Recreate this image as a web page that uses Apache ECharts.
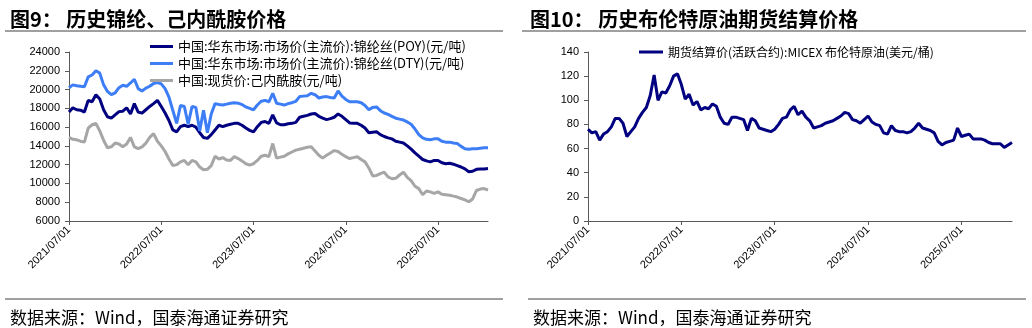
<!DOCTYPE html>
<html>
<head>
<meta charset="utf-8">
<script src="https://cdn.jsdelivr.net/npm/echarts@6/dist/echarts.min.js"></script>
<style>
html,body{margin:0;padding:0;background:#fff;}
#c{width:1032px;height:328px;}
</style>
</head>
<body>
<div id="c"></div>
<script>
const dates = [
'2021/07/01','2021/07/16','2021/08/01','2021/08/16','2021/09/01','2021/09/16','2021/10/01','2021/10/16','2021/11/01','2021/11/16','2021/12/01','2021/12/16',
'2022/01/01','2022/01/16','2022/02/01','2022/02/16','2022/03/01','2022/03/16','2022/04/01','2022/04/16','2022/05/01','2022/05/16','2022/06/01','2022/06/16',
'2022/07/01','2022/07/16','2022/08/01','2022/08/16','2022/09/01','2022/09/16','2022/10/01','2022/10/16','2022/11/01','2022/11/16','2022/12/01','2022/12/16',
'2023/01/01','2023/01/16','2023/02/01','2023/02/16','2023/03/01','2023/03/16','2023/04/01','2023/04/16','2023/05/01','2023/05/16','2023/06/01','2023/06/16',
'2023/07/01','2023/07/16','2023/08/01','2023/08/16','2023/09/01','2023/09/16','2023/10/01','2023/10/16','2023/11/01','2023/11/16','2023/12/01','2023/12/16',
'2024/01/01','2024/01/16','2024/02/01','2024/02/16','2024/03/01','2024/03/16','2024/04/01','2024/04/16','2024/05/01','2024/05/16','2024/06/01','2024/06/16',
'2024/07/01','2024/07/16','2024/08/01','2024/08/16','2024/09/01','2024/09/16','2024/10/01','2024/10/16','2024/11/01','2024/11/16','2024/12/01','2024/12/16',
'2025/01/01','2025/01/16','2025/02/01','2025/02/16','2025/03/01','2025/03/16','2025/04/01','2025/04/16','2025/05/01','2025/05/16','2025/06/01','2025/06/16',
'2025/07/01','2025/07/16','2025/08/01','2025/08/16','2025/09/01','2025/09/16','2025/10/01','2025/10/16','2025/11/01','2025/11/16','2025/12/01','2025/12/16',
'2026/01/01','2026/01/16'
];
const tickDates = ['2021/07/01','2022/07/01','2023/07/01','2024/07/01','2025/07/01'];

const poyName = '中国:华东市场:市场价(主流价):锦纶丝(POY)(元/吨)';
const dtyName = '中国:华东市场:市场价(主流价):锦纶丝(DTY)(元/吨)';
const cplName = '中国:现货价:己内酰胺(元/吨)';
const brentName = '期货结算价(活跃合约):MICEX 布伦特原油(美元/桶)';

const poy = [
17600,18050,17850,17800,17600,18850,18700,19450,19000,17850,
17100,16950,17300,17650,17700,18050,17400,18500,17600,17500,
17850,18200,18500,18850,18200,17500,16700,15700,15500,16050,
16200,16050,16200,16000,15400,14900,14800,15200,15700,16200,
16050,16200,16300,16400,16400,16200,15900,15650,15500,16050,
16500,16600,16400,17300,16450,16250,16250,16350,16400,16500,
17050,17150,17250,17400,17450,17150,16950,16800,16900,17050,
17400,17150,16800,16450,16400,16400,16200,15900,15400,15450,
15500,15200,15000,14850,14750,14500,14400,14300,14000,13650,
13250,12900,12550,12400,12300,12450,12450,12200,12100,12150,
12050,11900,11750,11550,11250,11300,11500,11550,11550,11600
];
const dty = [
20200,20500,20400,20350,20300,21350,21550,22000,21750,20500,
19800,19450,19650,20200,20450,20350,20700,21100,20100,19850,
20150,20350,20650,20750,20600,20100,19200,17800,16400,18300,
18200,16300,18200,18100,15600,17800,15400,17400,18500,18400,
18350,18450,18550,18600,18550,18400,18150,18000,17850,18350,
18750,18850,18700,19600,18550,18450,18350,18500,18600,18750,
19250,19300,19350,19600,19450,19100,19200,19250,19150,19100,
19850,19300,18950,18700,18700,18700,18600,18300,17850,18100,
18150,17750,17500,17350,17150,16950,16850,16750,16550,16300,
15800,15200,14850,14700,14650,14750,14750,14500,14400,14400,
14300,14250,13950,13700,13650,13700,13700,13750,13800,13800
];
const cpl = [
14900,14700,14650,14500,14400,15900,16250,16400,15600,14600,
13800,13900,14300,14200,13900,14200,14900,13900,13700,13900,
14300,14900,15300,14500,14000,13400,12600,11900,12000,12300,
12450,12000,12450,12300,11750,11450,11500,11900,12900,12600,
12750,12500,12450,12850,12650,12400,12100,11950,12100,12450,
12900,13000,12850,14250,12700,12800,12900,13150,13350,13550,
13650,13750,13850,13900,13450,13000,12700,13000,13250,13500,
13400,13100,12850,12650,12750,12850,12550,12300,11650,10800,
10850,11050,11200,10700,10500,10550,10900,11200,10650,10300,
9700,9450,8800,9200,9100,8950,9100,8850,8800,8750,
8650,8550,8400,8250,8050,8350,9250,9400,9450,9300
];
const brent = [
76,73,74,67,72,74,78,85,85,81,
70,74,78,85,90,94,104,121,100,107,
106,112,120,122,113,101,105,96,99,92,
94,93,97,95,86,81,80,86,86,85,
84,75,85,83,77,76,75,74,76,80,
85,86,92,95,88,91,86,83,77,78,
79,81,82,83,85,87,90,89,84,83,
81,84,87,82,80,79,73,72,79,75,
74,74,73,74,77,81,77,76,75,73,
66,63,65,66,67,77,70,71,72,68,
68,68,67,65,64,64,64,61,63,65
];
const leftTicks = {min: 6000, max: 24000, interval: 2000};
const rightTicks = {min: 0, max: 140, interval: 20};

const cjk = '"Noto Sans CJK SC", sans-serif';
const num = '"Liberation Sans", Arial, sans-serif';
const axisColor = '#595959';

function xAxis(gi) {
  return {
    type: 'category', gridIndex: gi, data: dates, boundaryGap: false,
    axisLine: {lineStyle: {color: axisColor, width: 1}},
    axisTick: {show: true, length: 4, lineStyle: {color: axisColor},
      interval: (i, v) => tickDates.indexOf(v) >= 0},
    axisLabel: {rotate: 45, fontSize: 11, fontFamily: num, color: '#000', margin: 7,
      interval: (i, v) => tickDates.indexOf(v) >= 0},
    splitLine: {show: false}
  };
}
function yAxis(gi, t) {
  return {
    type: 'value', gridIndex: gi, min: t.min, max: t.max, interval: t.interval,
    axisLine: {show: true, lineStyle: {color: axisColor, width: 1}},
    axisTick: {show: true, length: 4, lineStyle: {color: axisColor}},
    axisLabel: {fontSize: 11, fontFamily: num, color: '#000', margin: 9,
      formatter: (v) => String(v)},
    splitLine: {show: false}
  };
}
function line(name, data, color, xi, yi) {
  return {name, type: 'line', data, xAxisIndex: xi, yAxisIndex: yi, symbol: 'none',
    lineStyle: {color, width: 3}, itemStyle: {color}, animation: false};
}

const chart = echarts.init(document.getElementById('c'), null, {renderer: 'canvas'});
chart.setOption({
  animation: false,
  backgroundColor: '#fff',
  title: [
    {text: '图9： 历史锦纶、己内酰胺价格', left: 5, top: 4,
      textStyle: {fontSize: 20, fontWeight: 'bold', color: '#000', fontFamily: cjk}},
    {text: '图10： 历史布伦特原油期货结算价格', left: 525, top: 4,
      textStyle: {fontSize: 20, fontWeight: 'bold', color: '#000', fontFamily: cjk}},
    {text: '数据来源：Wind，国泰海通证券研究', left: 5, top: 304,
      textStyle: {fontSize: 17, fontWeight: 'normal', color: '#000', fontFamily: cjk}},
    {text: '数据来源：Wind，国泰海通证券研究', left: 528, top: 304,
      textStyle: {fontSize: 17, fontWeight: 'normal', color: '#000', fontFamily: cjk}}
  ],
  graphic: [
    {type: 'line', shape: {x1: 5, y1: 31, x2: 503, y2: 31}, style: {stroke: '#404040', lineWidth: 1}},
    {type: 'line', shape: {x1: 522, y1: 31, x2: 1026, y2: 31}, style: {stroke: '#404040', lineWidth: 1}},
    {type: 'line', shape: {x1: 5, y1: 299, x2: 503, y2: 299}, style: {stroke: '#404040', lineWidth: 1}},
    {type: 'line', shape: {x1: 528, y1: 299, x2: 1026, y2: 299}, style: {stroke: '#404040', lineWidth: 1}}
  ],
  legend: [
    {data: [poyName, dtyName, cplName], orient: 'vertical', left: 145, top: 35,
      icon: 'rect', itemWidth: 23, itemHeight: 3, itemGap: 4,
      textStyle: {fontSize: 13, fontFamily: cjk, color: '#000'}},
    {data: [brentName], orient: 'horizontal', left: 634, top: 41,
      icon: 'rect', itemWidth: 24, itemHeight: 3,
      textStyle: {fontSize: 12, fontFamily: cjk, color: '#000'}}
  ],
  grid: [
    {left: 69, top: 52, width: 419, height: 169, containLabel: false},
    {left: 588, top: 52, width: 424, height: 169, containLabel: false}
  ],
  xAxis: [xAxis(0), xAxis(1)],
  yAxis: [yAxis(0, leftTicks), yAxis(1, rightTicks)],
  series: [
    line(poyName, poy, '#000080', 0, 0),
    line(dtyName, dty, '#3d7ef7', 0, 0),
    line(cplName, cpl, '#a6a6a6', 0, 0),
    line(brentName, brent, '#000080', 1, 1)
  ]
});
</script>
</body>
</html>
